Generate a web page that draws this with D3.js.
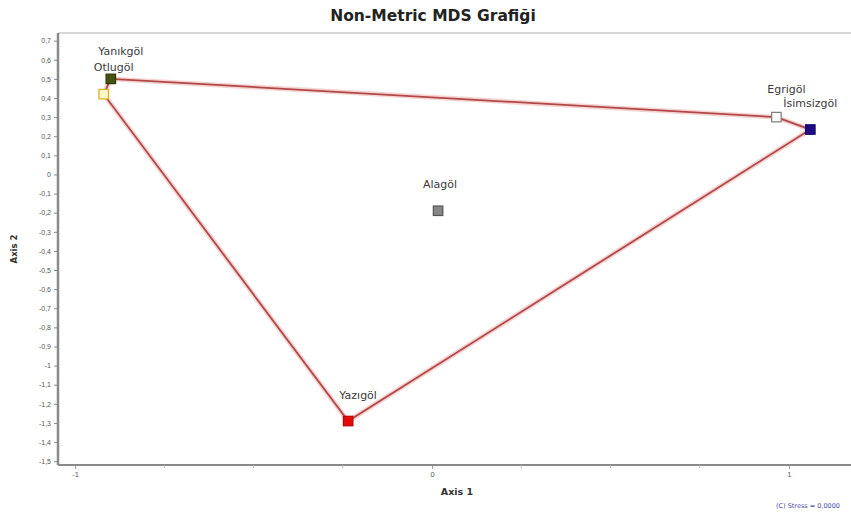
<!DOCTYPE html>
<html>
<head>
<meta charset="utf-8">
<script src="https://cdn.jsdelivr.net/npm/d3@7"></script>
<style>
  html, body { margin: 0; padding: 0; background: #fff; }
  svg { display: block; font-family: "DejaVu Sans", Verdana, sans-serif; }
</style>
</head>
<body>
<svg id="chart" width="851" height="513"></svg>
<script>
// Lakes and their NMDS coordinates
const lakes   = ["Yanıkgöl", "Otlugöl", "Egrigöl", "İsimsizgöl", "Alagöl", "Yazıgöl"];
const axis1   = [-0.90, -0.92, 0.965, 1.06, 0.017, -0.235];
const axis2   = [0.50, 0.42, 0.30, 0.235, -0.19, -1.29];
// Convex hull vertex order (indices into lakes)
const hullOrder = [0, 2, 3, 5, 1];
// Tick values
const xTickLabels = [-1, 0, 1];
const xMinorTicks = [-0.75, -0.5, -0.25, 0.25, 0.5, 0.75];
const yTicks = [0.7, 0.6, 0.5, 0.4, 0.3, 0.2, 0.1, 0, -0.1, -0.2, -0.3, -0.4, -0.5,
                -0.6, -0.7, -0.8, -0.9, -1, -1.1, -1.2, -1.3, -1.4, -1.5];
const stressText = "(C) Stress = 0,0000";

// Marker styles per lake
const markerFill   = ["#46520f", "#fff6c8", "#ffffff", "#1c0c86", "#858585", "#e30a0a"];
const markerStroke = ["#2f3a08", "#d6b21a", "#7a7a7a", "#140870", "#555555", "#c00000"];
// Label placement relative to each marker (dx, dy, anchor)
const labelPos = [
  { dx: 10,  dy: -24, anchor: "middle" },
  { dx: 10,  dy: -23, anchor: "middle" },
  { dx: 10,  dy: -24, anchor: "middle" },
  { dx: -27, dy: -23, anchor: "start" },
  { dx: 2,   dy: -23, anchor: "middle" },
  { dx: 10,  dy: -22, anchor: "middle" }
];

const svg = d3.select("#chart");
const plotLeft = 58, plotRight = 851, plotTop = 33, plotBottom = 465;

const x = d3.scaleLinear().domain([-1.048, 1.174]).range([plotLeft, plotRight]);
const y = d3.scaleLinear().domain([-1.52, 0.74]).range([plotBottom, plotTop]);

const fmt = v => (v === 0 ? "0" : String(v).replace(".", ","));

// Title
svg.append("text")
  .attr("x", 433).attr("y", 21)
  .attr("text-anchor", "middle")
  .attr("font-weight", "bold")
  .attr("font-size", 15.5)
  .attr("fill", "#222")
  .text("Non-Metric MDS Grafiği");

// Top frame line
svg.append("line")
  .attr("x1", plotLeft).attr("x2", plotRight)
  .attr("y1", plotTop).attr("y2", plotTop)
  .attr("stroke", "#b0b0b0").attr("stroke-width", 1.2);

// Y axis
const yAxis = d3.axisLeft(y).tickValues(yTicks).tickSize(4).tickPadding(3).tickFormat(fmt);
const gy = svg.append("g").attr("transform", `translate(${plotLeft},0)`).call(yAxis);
gy.select(".domain").attr("stroke", "#8a8a8a").attr("stroke-width", 2.5)
  .attr("d", `M0,${plotTop}V${plotBottom}`);
gy.selectAll(".tick line").attr("stroke", "#8a8a8a");
gy.selectAll(".tick text").attr("font-size", 7).attr("fill", "#555");

// X axis (major labelled ticks)
const xAxis = d3.axisBottom(x).tickValues(xTickLabels).tickSize(4).tickPadding(3).tickFormat(d => String(d));
const gx = svg.append("g").attr("transform", `translate(0,${plotBottom})`).call(xAxis);
gx.select(".domain").attr("stroke", "#8a8a8a").attr("stroke-width", 2)
  .attr("d", `M${plotLeft},0H${plotRight}`);
gx.selectAll(".tick line").attr("stroke", "#9a9a9a");
gx.selectAll(".tick text").attr("font-size", 7.5).attr("fill", "#555");

// X axis minor ticks
svg.append("g").selectAll("line").data(xMinorTicks).join("line")
  .attr("x1", d => x(d)).attr("x2", d => x(d))
  .attr("y1", plotBottom).attr("y2", plotBottom + 3)
  .attr("stroke", "#bbb");

// Axis titles
svg.append("text")
  .attr("x", 457).attr("y", 495)
  .attr("text-anchor", "middle")
  .attr("font-weight", "bold").attr("font-size", 9.5).attr("fill", "#333")
  .text("Axis 1");
svg.append("text")
  .attr("transform", "translate(17,249) rotate(-90)")
  .attr("text-anchor", "middle")
  .attr("font-weight", "bold").attr("font-size", 8.5).attr("fill", "#333")
  .text("Axis 2");

// Convex hull around the points
const hullPts = hullOrder.map(i => [x(axis1[i]), y(axis2[i])]);
const hullLine = d3.line().curve(d3.curveLinearClosed);
svg.append("path")
  .attr("d", hullLine(hullPts))
  .attr("fill", "none")
  .attr("stroke", "#f2b8b8").attr("stroke-width", 5).attr("stroke-opacity", 0.6);
svg.append("path")
  .attr("d", hullLine(hullPts))
  .attr("fill", "none")
  .attr("stroke", "#b04848").attr("stroke-width", 1.8);

// Markers
const s = 9.5;
svg.append("g").selectAll("rect").data(lakes).join("rect")
  .attr("x", (d, i) => x(axis1[i]) - s / 2)
  .attr("y", (d, i) => y(axis2[i]) - s / 2)
  .attr("width", s).attr("height", s)
  .attr("fill", (d, i) => markerFill[i])
  .attr("stroke", (d, i) => markerStroke[i])
  .attr("stroke-width", 1.2);

// Labels
svg.append("g").selectAll("text").data(lakes).join("text")
  .attr("x", (d, i) => x(axis1[i]) + labelPos[i].dx)
  .attr("y", (d, i) => y(axis2[i]) + labelPos[i].dy)
  .attr("text-anchor", (d, i) => labelPos[i].anchor)
  .attr("font-size", 11)
  .attr("fill", "#3a3a3a")
  .text(d => d);

// Stress footnote
svg.append("text")
  .attr("x", 776).attr("y", 508)
  .attr("text-anchor", "start")
  .attr("font-size", 6.5)
  .attr("fill", "#4a4aa8")
  .text(stressText);
</script>
</body>
</html>
